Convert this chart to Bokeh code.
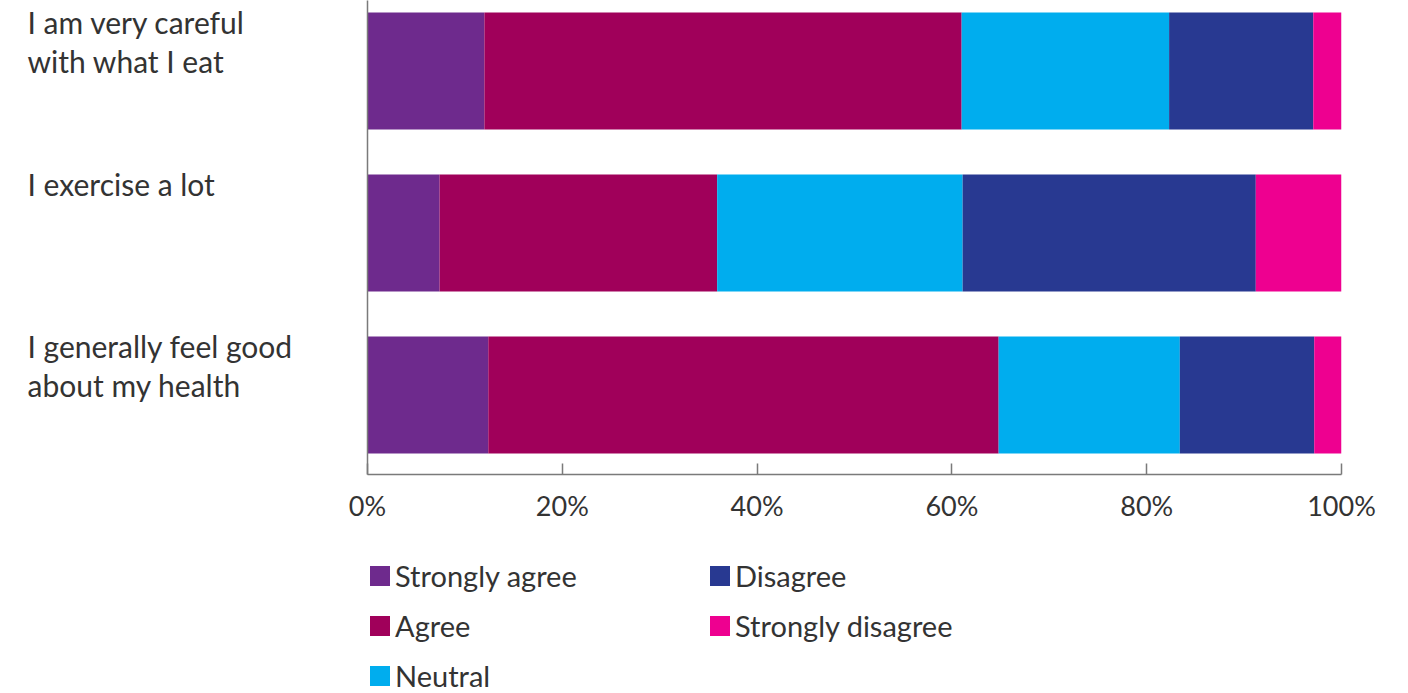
from bokeh.plotting import figure
from bokeh.models import Range1d, Legend, LegendItem, FixedTicker
from bokeh.core.properties import value
from bokeh.layouts import row, column
from bokeh.embed import file_html
from bokeh.resources import INLINE

# Survey statements (top to bottom) and response shares in percent
statements = ["I am very careful\nwith what I eat", "I exercise a lot", "I generally feel good\nabout my health"]
responses = ["Strongly agree", "Agree", "Neutral", "Disagree", "Strongly disagree"]
strongly_agree = [12, 7.4, 12.4]
agree = [49, 28.5, 52.4]
neutral = [21.3, 25.2, 18.6]
disagree = [14.8, 30.1, 13.8]
strongly_disagree = [2.9, 8.8, 2.8]
tick_values = [0, 20, 40, 60, 80, 100]
tick_labels = ["0%", "20%", "40%", "60%", "80%", "100%"]

colors = ["#6E2A8D", "#A0005A", "#00ADEE", "#283991", "#EE0090"]
FONT = "Lato"
TEXT = "#333333"
AXIS = "#7a7a7a"
BAR_H = 0.722
LEFT_W = 327  # width of the statement column; chart frame starts 40px further right

series = [strongly_agree, agree, neutral, disagree, strongly_disagree]
n = len(statements)
ypos = [n - 1 - i for i in range(n)]  # first statement on top
yr = Range1d(-0.491, 2.435)


def bare(fig):
    fig.outline_line_color = None
    fig.xgrid.visible = False
    fig.ygrid.visible = False
    return fig


# ---- main chart ----
p = bare(figure(width=1408 - LEFT_W, height=558, output_backend="svg", toolbar_location=None,
                x_range=Range1d(0, 100), y_range=yr,
                min_border_left=40, min_border_right=67, min_border_top=0, min_border_bottom=84))

left = [0.0] * n
for vals, col in zip(series, colors):
    right = [l + v for l, v in zip(left, vals)]
    p.hbar(y=ypos, left=left, right=right, height=BAR_H, fill_color=col, line_color=None)
    left = right

# x axis: inward ticks, percent labels
xa = p.xaxis[0]
xa.ticker = FixedTicker(ticks=tick_values)
xa.major_label_overrides = {v: t for v, t in zip(tick_values, tick_labels)}
xa.major_tick_in = 11
xa.major_tick_out = 0
xa.minor_tick_line_color = None
xa.axis_line_color = AXIS
xa.axis_line_width = 1.5
xa.major_tick_line_color = AXIS
xa.major_tick_line_width = 1.5
xa.major_label_text_font = FONT
xa.major_label_text_font_size = "27px"
xa.major_label_text_color = TEXT
xa.major_label_standoff = 14

# y axis: plain line only
ya = p.yaxis[0]
ya.ticker = FixedTicker(ticks=[])
ya.major_tick_line_color = None
ya.minor_tick_line_color = None
ya.major_label_text_font_size = "0px"
ya.major_label_standoff = 0
ya.axis_line_color = AXIS
ya.axis_line_width = 1.5

# ---- statement labels, sharing the vertical scale ----
lab = bare(figure(width=LEFT_W, height=693, output_backend="svg", toolbar_location=None,
                  x_range=Range1d(0, 1), y_range=yr,
                  x_axis_location=None, y_axis_location=None,
                  min_border_left=0, min_border_right=0, min_border_top=0, min_border_bottom=219))
lab.text(x=[0] * n, y=[v + BAR_H / 2 for v in ypos], text=statements,
         x_offset=27, y_offset=-8,
         text_font=value(FONT), text_font_size="30px", text_color=TEXT,
         text_align="left", text_baseline="top", text_line_height=1.08)


# ---- legend, two columns ----
def legend_panel(idx, width, pad_left):
    fig = bare(figure(width=width, height=135, output_backend="svg", toolbar_location=None,
                      x_range=Range1d(0, 1), y_range=Range1d(0, 1),
                      x_axis_location=None, y_axis_location=None,
                      min_border_left=pad_left, min_border_right=0, min_border_top=0, min_border_bottom=0))
    items = []
    for i in idx:
        # off-screen swatch renderer that only supplies the legend colour
        swatch = fig.hbar(y=[-5], left=[0], right=[1], height=1, fill_color=colors[i], line_color=None)
        items.append(LegendItem(label=responses[i], renderers=[swatch]))
    fig.add_layout(Legend(items=items, location="top_left", orientation="vertical",
                          glyph_width=25, glyph_height=25, label_standoff=3,
                          spacing=15, padding=0, margin=0,
                          label_text_font=FONT, label_text_font_size="29px", label_text_color=TEXT,
                          border_line_color=None, background_fill_alpha=0))
    return fig


legend_row = row(legend_panel([0, 1, 2], 380, 40), legend_panel([3, 4], 1408 - LEFT_W - 380, 0))
layout = row(lab, column(p, legend_row))
open("out.html", "w").write(file_html(layout, INLINE))
